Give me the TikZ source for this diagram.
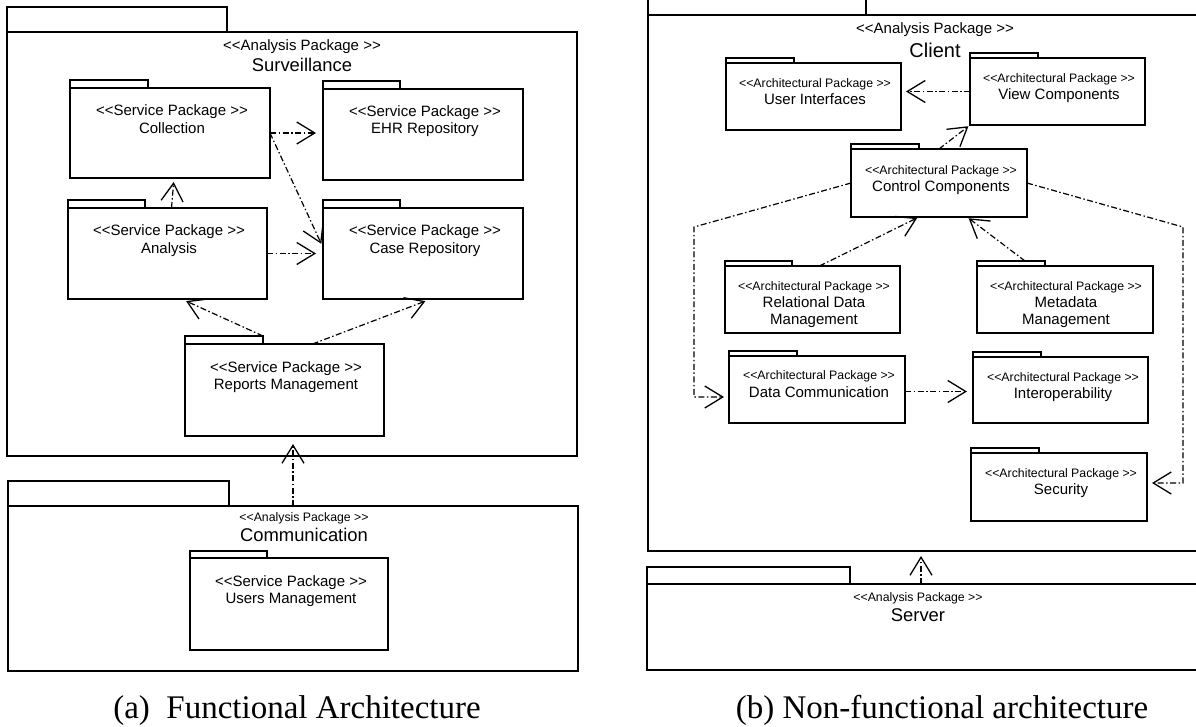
\documentclass[tikz,border=0pt]{standalone}
\usepackage{fontspec}
\setmainfont{Liberation Sans}[Ligatures=TeXOff]
\newfontfamily\capfont{Liberation Serif}
\usetikzlibrary{arrows.meta}
\tikzset{
  pkgbody/.style={draw, line width=2pt, rectangle, inner sep=0pt, outer sep=0pt},
  pkgtab/.style={draw, line width=2pt, rectangle, inner sep=0pt, outer sep=0pt, anchor=south west},
  stereoA/.style={font=\fontsize{15}{18}\selectfont, anchor=base, inner sep=0pt},
  stereoB/.style={font=\fontsize{12.3}{15}\selectfont, anchor=base, inner sep=0pt},
  pname/.style={font=\fontsize{15}{18}\selectfont, anchor=base, inner sep=0pt},
  titleA/.style={font=\fontsize{18.4}{22}\selectfont, anchor=base, inner sep=0pt},
  titleB/.style={font=\fontsize{20}{24}\selectfont, anchor=base, inner sep=0pt},
  captext/.style={font=\capfont\fontsize{33}{38}\selectfont, anchor=base, inner sep=0pt},
  dep/.style={line width=1.2pt, dash pattern=on 6pt off 2.5pt on 1.5pt off 2.5pt,
    -{Straight Barb[length=18pt,width=22pt,line width=1.3pt]}, shorten >=5pt}
}
% name, x1, y1, x2, y2, tab width, tab height
\newcommand{\umlpkg}[7]{%
  \node[pkgbody, minimum width={(#4-#2)*1pt}, minimum height={(#5-#3)*1pt}] (#1) at ({(#2+#4)/2},{(#3+#5)/2}) {};
  \node[pkgtab, minimum width={#6*1pt}, minimum height={#7*1pt}] (#1tab) at (#1.north west) {};
}
\begin{document}
\begin{tikzpicture}[x=1pt,y=-1pt]
\useasboundingbox (0,0) rectangle (1196,726);
\clip (0,0) rectangle (1196,726);

% ---------- (a) Functional architecture ----------
\umlpkg{surv}{7}{32}{577}{456}{220}{25}
\node[stereoA] (surv-st) at (302,50) {<<Analysis Package >>};
\node[titleA] (surv-nm) at (302,71) {Surveillance};

\umlpkg{coll}{70}{88}{270}{178}{78}{8}
\node[stereoA] (coll-st) at (172,115) {<<Service Package >>};
\node[pname] (coll-nm) at (172,133) {Collection};

\umlpkg{ehr}{323}{89}{523}{180}{77}{8}
\node[stereoA] (ehr-st) at (425,116) {<<Service Package >>};
\node[pname] (ehr-nm) at (425,133) {EHR Repository};

\umlpkg{ana}{68}{208}{267}{299}{77}{8}
\node[stereoA] (ana-st) at (169,235) {<<Service Package >>};
\node[pname] (ana-nm) at (169,253) {Analysis};

\umlpkg{case}{323}{208}{523}{299}{77}{8}
\node[stereoA] (case-st) at (425,235) {<<Service Package >>};
\node[pname] (case-nm) at (425,253) {Case Repository};

\umlpkg{rep}{185}{344}{384}{436}{78}{8}
\node[stereoA] (rep-st) at (286,372) {<<Service Package >>};
\node[pname] (rep-nm) at (286,389) {Reports Management};

\umlpkg{comm}{8}{506}{578}{671}{221}{25}
\node[stereoB] (comm-st) at (304,521) {<<Analysis Package >>};
\node[titleA] (comm-nm) at (304,541) {Communication};

\umlpkg{usr}{190}{558}{388}{650}{77}{7}
\node[stereoA] (usr-st) at (291,586) {<<Service Package >>};
\node[pname] (usr-nm) at (291,603) {Users Management};

\draw[dep, shorten >=7pt] (coll.east) -- (coll.east -| ehr.west);
\draw[dep, shorten >=4pt] (coll.east) -- ([yshift=6pt]case.west);
\draw[dep, shorten >=7pt] (ana.east) -- (ana.east -| case.west);
\draw[dep, shorten >=4pt] ([xshift=4pt]ana.north) -- ([xshift=4pt]coll.south);
\draw[dep] (reptab.north east) -- ([xshift=14pt]ana.south);
\draw[dep, shorten >=6pt] ([xshift=28pt]rep.north) -- ([xshift=8pt]case.south);
\draw[dep, shorten >=8pt] (comm.north) -- (comm.north |- rep.south);

% ---------- (b) Non-functional architecture ----------
\umlpkg{cli}{648}{15}{1210}{551}{218}{25}
\node[stereoA] (cli-st) at (935,33) {<<Analysis Package >>};
\node[titleB] (cli-nm) at (935,57) {Client};

\umlpkg{ui}{726}{63}{901}{130}{68}{5}
\node[stereoB] (ui-st) at (815,87) {<<Architectural Package >>};
\node[pname] (ui-nm) at (815,104) {User Interfaces};

\umlpkg{view}{970}{58}{1145}{125}{68}{5}
\node[stereoB] (view-st) at (1059,82) {<<Architectural Package >>};
\node[pname] (view-nm) at (1059,99) {View Components};

\umlpkg{ctrl}{851}{149}{1027}{217}{68}{5}
\node[stereoB] (ctrl-st) at (941,174) {<<Architectural Package >>};
\node[pname] (ctrl-nm) at (941,191) {Control Components};

\umlpkg{rdm}{725}{266}{900}{333}{67}{5}
\node[stereoB] (rdm-st) at (814,290) {<<Architectural Package >>};
\node[pname] (rdm-n1) at (814,307) {Relational Data};
\node[pname] (rdm-n2) at (814,324) {Management};

\umlpkg{mm}{977}{266}{1153}{333}{68}{5}
\node[stereoB] (mm-st) at (1066,290) {<<Architectural Package >>};
\node[pname] (mm-n1) at (1066,307) {Metadata};
\node[pname] (mm-n2) at (1066,324) {Management};

\umlpkg{dc}{729}{356}{905}{423}{68}{5}
\node[stereoB] (dc-st) at (819,379) {<<Architectural Package >>};
\node[pname] (dc-nm) at (819,397) {Data Communication};

\umlpkg{io}{973}{357}{1148}{423}{68}{5}
\node[stereoB] (io-st) at (1063,381) {<<Architectural Package >>};
\node[pname] (io-nm) at (1063,398) {Interoperability};

\umlpkg{sec}{971}{453}{1147}{521}{68}{5}
\node[stereoB] (sec-st) at (1061,477) {<<Architectural Package >>};
\node[pname] (sec-nm) at (1061,494) {Security};

\umlpkg{srv}{647}{584}{1210}{670}{203}{17}
\node[stereoB] (srv-st) at (918,601) {<<Analysis Package >>};
\node[titleA] (srv-nm) at (918,621) {Server};

\coordinate (bendL) at (694,227);
\coordinate (bendR) at (1183,227);

\draw[dep] (view.west) -- (view.west -| ui.east);
\draw[dep, shorten >=2pt] (ctrl.north) -- (view.south west);
\draw[dep, shorten >=2pt] ([xshift=7pt]rdm.north) -- ([xshift=-20pt]ctrl.south);
\draw[dep, shorten >=2pt] ([xshift=48pt]mmtab.north west) -- ([xshift=28pt]ctrl.south);
\draw[dep] (ctrl.west) -- (bendL) |- ([yshift=-7.5pt]dc.west);
\draw[dep] (ctrl.east) -- (bendR) |- ([yshift=4pt]sec.east);
\draw[dep, shorten >=6pt] ([yshift=-2pt]dc.east) -- ([yshift=-2pt]dc.east -| io.west);
\draw[dep] ([xshift=-7.5pt]srv.north) -- ([xshift=-7.5pt]srv.north |- cli.south);

% ---------- captions ----------
\node[captext] (capa) at (297,718) {(a)\hspace{0.5em}Functional Architecture};
\node[captext] (capb) at (942,718) {(b) Non-functional architecture};
\end{tikzpicture}
\end{document}
